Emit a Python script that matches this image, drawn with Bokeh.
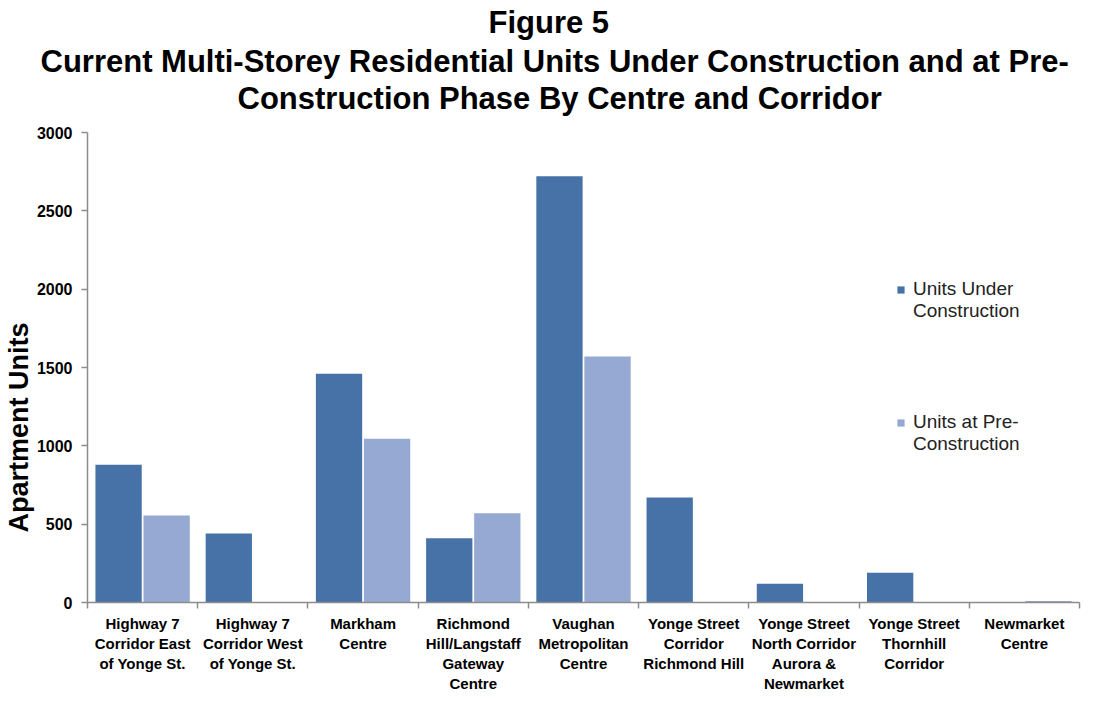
import numpy as np
from bokeh.plotting import figure
from bokeh.models import (ColumnDataSource, Range1d, FixedTicker, Title, Legend,
                          LegendItem)
from bokeh.transform import dodge
from bokeh.embed import file_html
from bokeh.resources import INLINE

categories = [
    "Highway 7\nCorridor East\nof Yonge St.",
    "Highway 7\nCorridor West\nof Yonge St.",
    "Markham\nCentre",
    "Richmond\nHill/Langstaff\nGateway\nCentre",
    "Vaughan\nMetropolitan\nCentre",
    "Yonge Street\nCorridor\nRichmond Hill",
    "Yonge Street\nNorth Corridor\nAurora &\nNewmarket",
    "Yonge Street\nThornhill\nCorridor",
    "Newmarket\nCentre",
]
under_construction = [880, 440, 1460, 410, 2720, 670, 120, 190, 0]
pre_construction = [555, 0, 1045, 570, 1570, 0, 0, 0, 10]
y_ticks = [0, 500, 1000, 1500, 2000, 2500, 3000]

DARK = "#4672A7"
LIGHT = "#95A9D2"
AXIS = "#8C8C8C"
FONT = "Liberation Sans"

n = len(categories)
centers = np.arange(n) + 0.5
src = ColumnDataSource(dict(x=centers, uc=under_construction, pc=pre_construction))

p = figure(width=1083, height=695, output_backend="svg", toolbar_location=None,
           x_range=Range1d(0, n), y_range=Range1d(0, 3000),
           min_border_left=79, min_border_right=4, min_border_top=0,
           min_border_bottom=0)
p.title = None
p.outline_line_color = None
p.grid.grid_line_color = None

r1 = p.vbar(x=dodge("x", -0.218, range=p.x_range), top="uc", width=0.42, bottom=0,
            source=src, fill_color=DARK, line_color=None)
r2 = p.vbar(x=dodge("x", 0.218, range=p.x_range), top="pc", width=0.42, bottom=0,
            source=src, fill_color=LIGHT, line_color=None)
blank = p.vbar(x=[], top=[], width=0.42, fill_alpha=0, line_alpha=0)

# x axis
xa = p.xaxis[0]
xa.ticker = FixedTicker(ticks=list(centers), minor_ticks=list(np.arange(n + 1)))
xa.major_label_overrides = {float(c): lab for c, lab in zip(centers, categories)}
xa.major_tick_line_color = None
xa.major_tick_out = 6
xa.major_tick_in = 0
xa.minor_tick_line_color = AXIS
xa.minor_tick_out = 6
xa.minor_tick_in = 0
xa.axis_line_color = AXIS
xa.axis_line_width = 1.5
xa.minor_tick_line_width = 1.5
xa.major_label_text_font = FONT
xa.major_label_text_font_style = "bold"
xa.major_label_text_font_size = "15px"
xa.major_label_text_line_height = 1.19
xa.major_label_text_color = "black"
xa.major_label_standoff = 6

# y axis
ya = p.yaxis[0]
ya.ticker = FixedTicker(ticks=y_ticks)
ya.minor_tick_line_color = None
ya.major_tick_line_color = AXIS
ya.major_tick_out = 6
ya.major_tick_in = 0
ya.axis_line_color = AXIS
ya.axis_line_width = 1.5
ya.major_tick_line_width = 1.5
ya.major_label_text_font = FONT
ya.major_label_text_font_style = "bold"
ya.major_label_text_font_size = "16px"
ya.major_label_text_color = "black"
ya.major_label_standoff = 9
ya.axis_label = "Apartment Units" + "\u00a0" * 16
ya.axis_label_text_font = FONT
ya.axis_label_text_font_style = "bold"
ya.axis_label_text_font_size = "27px"
ya.axis_label_text_color = "black"
ya.axis_label_standoff = 0

# titles (closest to plot first); a blank spacer sits between plot and titles
p.add_layout(Title(text=" ", text_font_size="10px", standoff=4), "above")
for txt, so, off in [("Construction Phase By Centre and Corridor", 0, 150),
                     ("Current Multi-Storey Residential Units Under Construction and at Pre-", 0, -47),
                     ("Figure 5", 4, 401)]:
    p.add_layout(Title(text=txt, align="left", text_font=FONT, text_font_style="bold",
                       text_font_size="31px", text_color="black", standoff=so, offset=off),
                 "above")

common = dict(orientation="vertical", spacing=0,
              label_text_font=FONT, label_text_font_size="19px", label_text_color="#222222",
              label_height=21, glyph_width=9, glyph_height=9, label_standoff=8,
              padding=0, margin=0, border_line_color=None, background_fill_alpha=0)
leg1 = Legend(items=[LegendItem(label="Units Under", renderers=[r1]),
                     LegendItem(label="Construction", renderers=[blank])],
              location=(809, 280), **common)
leg2 = Legend(items=[LegendItem(label="Units at Pre-", renderers=[r2]),
                     LegendItem(label="Construction", renderers=[blank])],
              location=(809, 147), **common)
p.add_layout(leg1, "center")
p.add_layout(leg2, "center")

open("out.html", "w").write(file_html(p, INLINE))
